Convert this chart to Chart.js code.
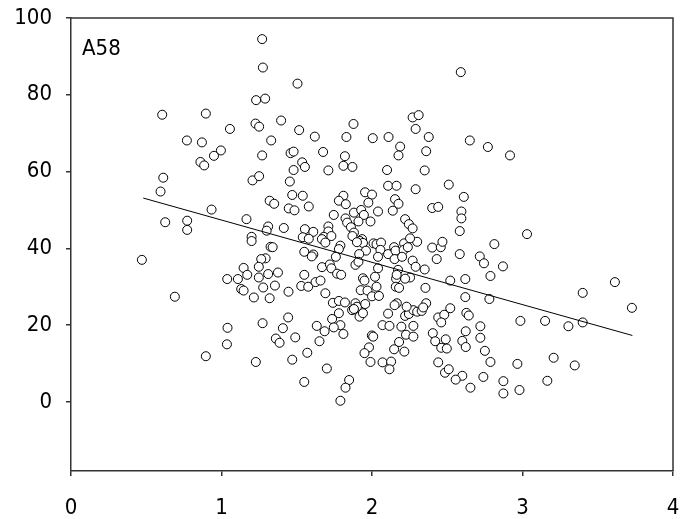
<!DOCTYPE html>
<html>
<head>
<meta charset="utf-8">
<script src="https://cdn.jsdelivr.net/npm/chart.js@4/dist/chart.umd.min.js"></script>
<style>
  body { margin: 0; background: #fff; }
</style>
</head>
<body>
<canvas id="dispersion" width="684" height="519"></canvas>
<script>
// etiqueta del panel y valores
var panelLabel = 'A58';

var xVals = [
  1.27, 1.275, 1.23, 1.29, 0.606, 0.896, 1.056, 1.226, 1.25, 0.77,
  0.87, 0.996, 0.95, 1.27, 0.86, 0.885, 1.33, 2.59, 1.505, 1.396,
  2.27, 2.31, 2.29, 1.516, 1.877, 1.62, 1.83, 2.005, 2.11, 2.377,
  2.65, 2.187, 2.176, 2.36, 1.459, 1.479, 1.675, 1.82, 1.536, 1.554,
  1.81, 1.87, 1.479, 1.71, 2.1, 2.35, 2.77, 2.917, 0.613, 0.595,
  1.206, 1.25, 0.934, 1.166, 0.626, 0.772, 0.772, 1.32, 1.31, 1.30,
  1.20, 1.20, 1.326, 0.471, 1.293, 1.264, 1.248, 1.147, 1.171, 1.109,
  1.038, 1.248, 1.31, 1.131, 1.147, 1.277, 0.69, 1.215, 1.32, 1.273,
  1.04, 1.036, 0.896, 1.228, 2.61, 2.594, 2.594, 2.583, 2.583, 3.03,
  2.813, 2.716, 2.744, 2.87, 2.787, 2.62, 2.62, 2.78, 3.614, 3.40,
  3.727, 2.627, 2.643, 2.986, 3.15, 3.40, 3.305, 2.72, 2.623, 2.60,
  2.623, 2.72, 2.75, 2.787, 2.966, 3.207, 3.347, 2.60, 2.74, 2.654,
  2.873, 2.873, 2.98, 3.165, 1.443, 1.408, 1.361, 1.386, 1.49, 1.47,
  1.57, 1.55, 1.633, 1.685, 1.735, 1.78, 1.79, 1.746, 1.81, 1.651,
  1.70, 1.848, 1.824, 1.79, 1.868, 1.917, 1.94, 1.999, 2.008, 1.98,
  1.95, 1.99, 2.07, 2.116, 2.107, 2.07, 2.127, 2.116, 2.147, 2.18,
  2.215, 2.195, 2.226, 2.275, 2.275, 2.22, 2.245, 2.275, 2.30, 2.33,
  2.404, 2.42, 2.44, 2.48, 2.46, 2.46, 2.49, 2.497, 2.44, 2.485,
  2.51, 2.556, 1.454, 2.107, 2.163, 2.29, 2.51, 1.47, 1.54, 1.35,
  1.81, 1.78, 1.826, 1.954, 2.0, 1.976, 2.153, 2.176, 2.138, 1.447,
  1.485, 1.58, 1.746, 1.88, 1.928, 1.946, 2.04, 1.824, 1.835, 1.91,
  1.99, 2.22, 2.245, 2.27, 2.40, 2.44, 1.414, 1.554, 1.54, 1.61,
  1.58, 1.71, 1.71, 1.68, 1.73, 1.667, 1.69, 1.79, 1.78, 1.86,
  1.88, 1.87, 1.934, 1.92, 1.94, 2.01, 2.03, 2.06, 1.90, 1.96,
  1.915, 2.056, 2.04, 2.107, 2.147, 2.156, 2.15, 2.213, 2.21, 2.20,
  2.30, 2.253, 2.238, 2.40, 2.457, 2.468, 2.43, 1.34, 1.55, 1.61,
  1.60, 1.76, 1.668, 1.72, 1.73, 1.768, 1.795, 1.89, 1.91, 2.04,
  2.173, 2.27, 2.29, 2.35, 2.253, 2.22, 2.16, 2.164, 2.52, 2.355,
  1.375, 1.355, 1.445, 1.55, 1.53, 1.576, 1.625, 1.658, 1.69, 1.74,
  1.78, 1.82, 1.89, 1.90, 1.88, 1.94, 1.95, 1.925, 1.97, 1.955,
  2.03, 2.02, 2.0, 2.046, 2.158, 2.18, 2.165, 2.15, 2.23, 2.36,
  2.34, 2.52
];

var yVals = [
  94.5, 87.1, 78.6, 79.0, 74.8, 75.1, 71.1, 72.5, 71.7, 68.1,
  67.6, 65.5, 64.1, 64.2, 62.5, 61.6, 68.1, 85.9, 82.9, 73.3,
  74.1, 74.7, 71.1, 70.8, 72.4, 69.1, 69.0, 68.7, 69.0, 69.0,
  68.1, 66.5, 64.2, 65.3, 64.8, 65.2, 65.1, 64.0, 62.4, 61.2,
  61.5, 61.2, 60.4, 60.3, 60.4, 60.3, 66.4, 64.2, 58.4, 54.8,
  57.7, 58.8, 50.1, 47.6, 46.8, 47.2, 44.8, 52.4, 45.7, 44.6,
  43.0, 41.9, 40.4, 37.0, 37.4, 37.2, 35.2, 34.9, 33.1, 32.0,
  32.0, 32.4, 33.3, 29.4, 29.0, 29.8, 27.4, 27.2, 27.0, 20.5,
  19.3, 15.0, 11.9, 10.4, 53.4, 49.6, 47.8, 44.5, 38.5, 43.7,
  41.1, 37.9, 36.1, 35.3, 32.8, 32.0, 27.3, 26.8, 31.2, 28.4,
  24.5, 23.2, 22.5, 21.1, 21.1, 20.7, 19.7, 19.7, 18.4, 15.9,
  14.3, 16.7, 13.3, 10.4, 9.9, 11.5, 9.5, 6.8, 6.5, 3.7,
  5.4, 2.2, 3.1, 5.5, 22.0, 19.2, 16.5, 15.4, 16.8, 11.0,
  12.8, 5.2, 19.8, 18.4, 21.6, 23.1, 20.0, 19.4, 17.7, 15.8,
  8.7, 5.7, 3.7, 0.3, 23.9, 22.2, 23.1, 17.3, 17.0, 14.2,
  12.7, 10.4, 20.0, 19.8, 23.0, 10.3, 10.5, 8.5, 13.7, 15.6,
  13.1, 19.6, 17.5, 17.0, 19.8, 22.4, 22.9, 23.9, 23.5, 23.7,
  17.9, 15.8, 22.0, 22.7, 20.7, 14.1, 16.3, 13.9, 10.3, 7.6,
  8.5, 5.8, 57.4, 56.3, 56.3, 55.4, 56.6, 53.9, 53.7, 51.6,
  53.7, 52.4, 51.5, 54.6, 54.0, 51.9, 52.8, 51.6, 49.8, 50.4,
  49.9, 50.9, 48.7, 49.3, 50.0, 48.7, 49.6, 47.8, 46.7, 47.0,
  47.0, 47.6, 46.3, 45.2, 50.5, 50.8, 45.3, 45.0, 42.9, 44.3,
  42.5, 45.7, 44.4, 43.0, 43.2, 42.4, 41.5, 40.7, 39.8, 45.5,
  44.1, 43.2, 42.4, 41.9, 41.4, 41.3, 41.1, 41.5, 41.6, 39.4,
  38.5, 39.6, 37.8, 38.5, 40.3, 39.4, 37.2, 41.3, 39.6, 37.8,
  41.7, 42.6, 40.3, 40.2, 40.3, 41.7, 37.2, 40.3, 39.1, 38.4,
  37.9, 37.8, 35.1, 35.8, 34.8, 33.4, 33.1, 35.7, 36.5, 34.8,
  34.4, 36.8, 35.2, 34.5, 32.4, 32.1, 32.1, 33.1, 31.6, 29.7,
  33.7, 30.3, 28.7, 33.1, 30.2, 30.0, 31.2, 31.6, 28.3, 25.8,
  26.3, 25.9, 25.7, 24.8, 24.2, 32.2, 31.6, 29.1, 29.0, 25.5,
  30.0, 32.6, 27.5, 27.6, 30.0, 29.7, 25.7, 25.2, 24.8, 25.7,
  24.6, 24.4
];

// recta de ajuste (extremos)
var fitX = [0.48, 3.73];
var fitY = [53.1, 17.3];

var xTicks = [0, 1, 2, 3, 4];
var yTicks = [0, 20, 40, 60, 80, 100];
var xMin = 0, xMax = 4, yMin = -18, yMax = 100;

var puntos = [];
for (var i = 0; i < xVals.length; i++) {
  puntos.push({ x: xVals[i], y: yVals[i] });
}
var recta = [];
for (var j = 0; j < fitX.length; j++) {
  recta.push({ x: fitX[j], y: fitY[j] });
}

var fuente = { family: "'DejaVu Sans Condensed', 'DejaVu Sans', sans-serif", size: 22 };
var ejeColor = '#333';

// marco superior/derecho y etiqueta del panel
var marcoPlugin = {
  id: 'marco',
  afterDraw: function (chart) {
    var ctx = chart.ctx;
    var a = chart.chartArea;
    ctx.save();
    ctx.strokeStyle = ejeColor;
    ctx.lineWidth = 1.5;
    ctx.beginPath();
    ctx.moveTo(a.left, a.top);
    ctx.lineTo(a.right, a.top);
    ctx.lineTo(a.right, a.bottom);
    ctx.stroke();
    ctx.fillStyle = '#000';
    ctx.font = fuente.size + 'px ' + fuente.family;
    ctx.textAlign = 'left';
    ctx.textBaseline = 'alphabetic';
    ctx.fillText(panelLabel, a.left + 11, a.top + 37);
    ctx.restore();
  }
};

var ctx = document.getElementById('dispersion').getContext('2d');
var myChart = new Chart(ctx, {
  type: 'scatter',
  data: {
    datasets: [{
      type: 'line',
      data: recta,
      borderColor: '#000',
      borderWidth: 1,
      pointRadius: 0,
      fill: false,
      order: 0
    }, {
      data: puntos,
      pointRadius: 4.5,
      pointHoverRadius: 4.5,
      pointBorderWidth: 1,
      pointBorderColor: '#000',
      pointBackgroundColor: '#fff',
      order: 1
    }]
  },
  options: {
    responsive: false,
    animation: false,
    events: [],
    layout: { padding: { left: 0, right: 11, top: 18, bottom: 0 } },
    plugins: {
      legend: { display: false },
      tooltip: { enabled: false }
    },
    scales: {
      x: {
        type: 'linear',
        min: xMin,
        max: xMax,
        afterBuildTicks: function (scale) {
          scale.ticks = xTicks.map(function (v) { return { value: v }; });
        },
        afterFit: function (scale) {
          scale.height = 48;
          scale.paddingLeft = 0;
          scale.paddingRight = 0;
        },
        grid: { drawOnChartArea: false, drawTicks: true, tickLength: 5, color: ejeColor, lineWidth: 1.5 },
        border: { display: true, color: ejeColor, width: 1.5 },
        ticks: { color: '#000', font: fuente, padding: 19, maxRotation: 0 }
      },
      y: {
        type: 'linear',
        min: yMin,
        max: yMax,
        afterBuildTicks: function (scale) {
          scale.ticks = yTicks.map(function (v) { return { value: v }; });
        },
        afterFit: function (scale) {
          scale.width = 71;
          scale.paddingTop = 0;
          scale.paddingBottom = 0;
        },
        grid: { drawOnChartArea: false, drawTicks: true, tickLength: 5, color: ejeColor, lineWidth: 1.5 },
        border: { display: true, color: ejeColor, width: 1.5 },
        ticks: { color: '#000', font: fuente, padding: 14 }
      }
    }
  },
  plugins: [marcoPlugin]
});
</script>
</body>
</html>
